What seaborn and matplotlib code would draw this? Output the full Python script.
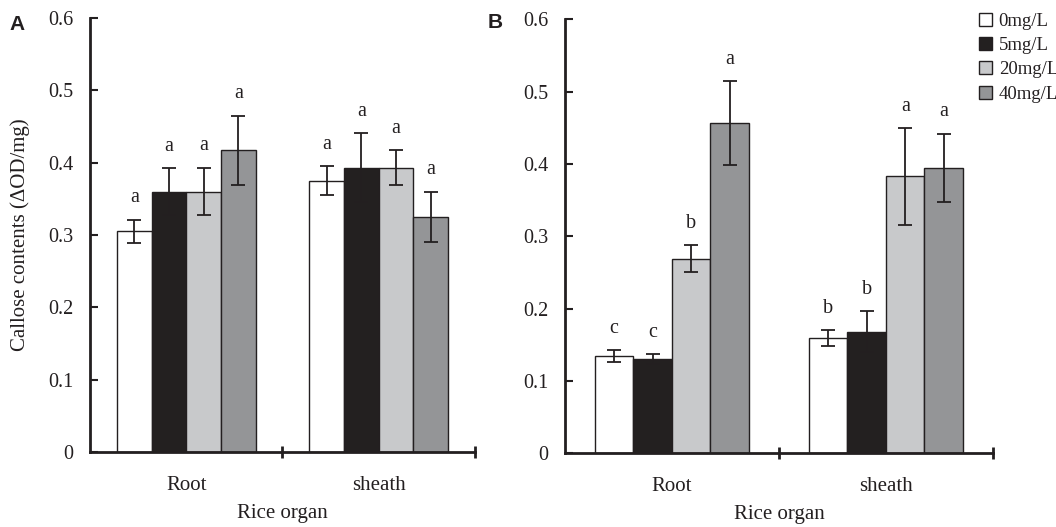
import numpy as np
import pandas as pd
import matplotlib
matplotlib.use('Agg')
import matplotlib.pyplot as plt
from matplotlib.ticker import FixedLocator
import seaborn as sns

# data
organs = ['Root', 'sheath']
concs = ['0mg/L', '5mg/L', '20mg/L', '40mg/L']
colors = ['#ffffff', '#231f20', '#c8c9cb', '#939598']

# panel A
a_root = [0.305, 0.360, 0.360, 0.417]
a_sheath = [0.375, 0.393, 0.393, 0.325]
a_root_err = [0.016, 0.032, 0.033, 0.048]
a_sheath_err = [0.020, 0.048, 0.024, 0.035]
a_root_sig = ['a', 'a', 'a', 'a']
a_sheath_sig = ['a', 'a', 'a', 'a']

# panel B
b_root = [0.134, 0.130, 0.269, 0.457]
b_sheath = [0.159, 0.168, 0.383, 0.395]
b_root_err = [0.008, 0.007, 0.019, 0.058]
b_sheath_err = [0.011, 0.028, 0.067, 0.047]
b_root_sig = ['c', 'c', 'b', 'a']
b_sheath_sig = ['b', 'b', 'a', 'a']

yticks = [0, 0.1, 0.2, 0.3, 0.4, 0.5, 0.6]
ytick_labels = ['0', '0.1', '0.2', '0.3', '0.4', '0.5', '0.6']

sns.set_style('ticks')
plt.rcParams['font.family'] = ['Liberation Serif', 'DejaVu Serif']
plt.rcParams['text.color'] = '#231f20'
plt.rcParams['axes.labelcolor'] = '#231f20'
plt.rcParams['xtick.color'] = '#231f20'
plt.rcParams['ytick.color'] = '#231f20'


def make_df(root, sheath, root_err, sheath_err, root_sig, sheath_sig):
    rows = []
    for i, c in enumerate(concs):
        rows.append({'organ': 'Root', 'conc': c, 'value': root[i],
                     'err': root_err[i], 'sig': root_sig[i]})
        rows.append({'organ': 'sheath', 'conc': c, 'value': sheath[i],
                     'err': sheath_err[i], 'sig': sheath_sig[i]})
    return pd.DataFrame(rows)


def draw_panel(ax, df, legend=False):
    sns.barplot(data=df, x='organ', y='value', hue='conc', order=organs,
                hue_order=concs, palette=colors, width=0.72, errorbar=None,
                edgecolor='#231f20', linewidth=1.0, legend=legend, ax=ax)
    for i, c in enumerate(concs):
        sub = df[df['conc'] == c].set_index('organ').loc[organs]
        for bar, (_, r) in zip(ax.containers[i], sub.iterrows()):
            xc = bar.get_x() + bar.get_width() / 2
            ax.errorbar(xc, r['value'], yerr=r['err'], fmt='none',
                        ecolor='#231f20', elinewidth=1.3, capsize=5, capthick=1.3)
            ax.annotate(r['sig'], (xc, r['value'] + r['err']),
                        xytext=(0, 12.5), textcoords='offset points',
                        ha='center', va='baseline', fontsize=14.5)
    ax.set_ylim(0, 0.6)
    ax.set_xlim(-0.5, 1.5)
    ax.yaxis.set_major_locator(FixedLocator(yticks))
    ax.set_yticklabels(ytick_labels)
    ax.xaxis.set_minor_locator(FixedLocator([0.5, 1.5]))
    ax.tick_params(axis='x', which='major', length=0, pad=17, labelsize=15)
    ax.tick_params(axis='x', which='minor', direction='inout', length=9, width=2)
    ax.tick_params(axis='y', direction='in', length=6, width=1.5, pad=12, labelsize=14.5)
    for s in ['left', 'bottom']:
        ax.spines[s].set_linewidth(2)
        ax.spines[s].set_color('#231f20')
    sns.despine(ax=ax)
    ax.set_xlabel('Rice organ', fontsize=15, labelpad=7)
    ax.set_ylabel('')


fig = plt.figure(figsize=(10.56, 5.27), dpi=100)
ax_a = fig.add_axes([0.0852, 0.1423, 0.3646, 0.8235])
ax_b = fig.add_axes([0.5350, 0.1404, 0.4053, 0.8226])

df_a = make_df(a_root, a_sheath, a_root_err, a_sheath_err, a_root_sig, a_sheath_sig)
df_b = make_df(b_root, b_sheath, b_root_err, b_sheath_err, b_root_sig, b_sheath_sig)

draw_panel(ax_a, df_a)
draw_panel(ax_b, df_b, legend=True)

ax_a.set_ylabel('Callose contents (ΔOD/mg)', fontsize=15, labelpad=13)

sns.move_legend(ax_b, 'upper left', bbox_to_anchor=(0.920, 0.99),
                bbox_transform=fig.transFigure, frameon=False, title=None,
                fontsize=13.5, handlelength=0.7, handleheight=0.7,
                handletextpad=0.35, labelspacing=0.38, borderaxespad=0)

fig.text(0.009, 0.953, 'A', fontsize=15, fontweight='bold',
         family=['Liberation Sans', 'DejaVu Sans'], va='center')
fig.text(0.462, 0.957, 'B', fontsize=15, fontweight='bold',
         family=['Liberation Sans', 'DejaVu Sans'], va='center')

fig.savefig('out.png', dpi=100)
